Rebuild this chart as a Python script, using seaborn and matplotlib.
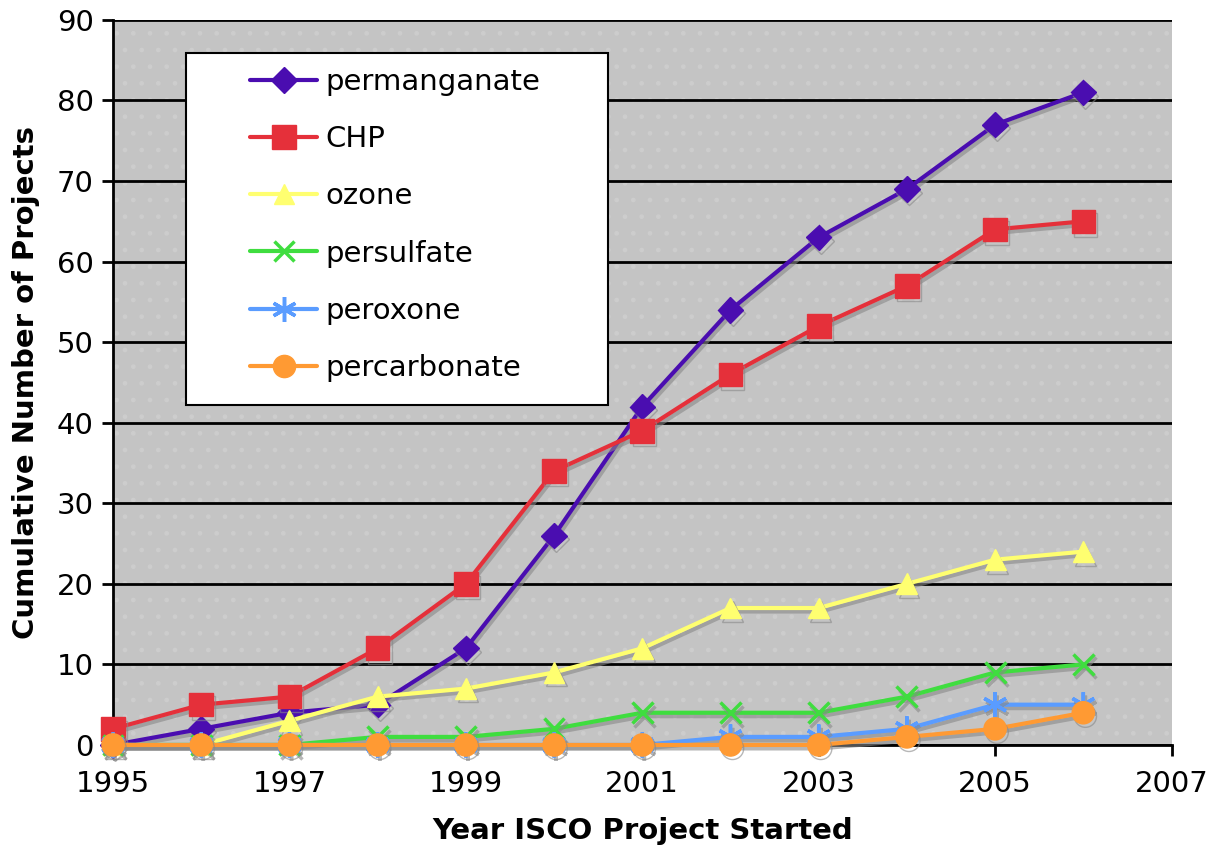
import numpy as np
import pandas as pd
import matplotlib
matplotlib.use("Agg")
import matplotlib.pyplot as plt
import matplotlib.patheffects as pe
from matplotlib.patches import Rectangle
import seaborn as sns

years = [1995, 1996, 1997, 1998, 1999, 2000, 2001, 2002, 2003, 2004, 2005, 2006]
permanganate = [0, 2, 4, 5, 12, 26, 42, 54, 63, 69, 77, 81]
chp = [2, 5, 6, 12, 20, 34, 39, 46, 52, 57, 64, 65]
ozone = [0, 0, 3, 6, 7, 9, 12, 17, 17, 20, 23, 24]
persulfate = [0, 0, 0, 1, 1, 2, 4, 4, 4, 6, 9, 10]
peroxone = [0, 0, 0, 0, 0, 0, 0, 1, 1, 2, 5, 5]
percarbonate = [0, 0, 0, 0, 0, 0, 0, 0, 0, 1, 2, 4]

series_names = ["permanganate", "CHP", "ozone", "persulfate", "peroxone", "percarbonate"]
series_values = [permanganate, chp, ozone, persulfate, peroxone, percarbonate]
colors = ["#4A0DB0", "#E5303A", "#FFFF70", "#3FDD3F", "#5A9CFF", "#FF9A33"]
marker_list = ["D", "s", "^", "x", (6, 2, 0), "o"]
marker_sizes = [13, 17, 15, 15, 18, 16]

df = pd.DataFrame({
    "year": np.tile(years, len(series_names)),
    "count": np.concatenate(series_values),
    "series": np.repeat(series_names, len(years)),
})

sns.set_style("white")
plt.rcParams["font.family"] = ["DejaVu Sans"]
plt.rcParams["text.color"] = "black"
plt.rcParams["axes.labelcolor"] = "black"

fig = plt.figure(figsize=(12.09, 8.48), dpi=100)
ax = fig.add_axes([0.0935, 0.1215, 0.8755, 0.855])
ax.set_facecolor("#C4C4C4")
ax.add_patch(Rectangle((0, 0), 1, 1, transform=ax.transAxes, facecolor="none",
                       edgecolor="#CDCDCD", hatch=".", linewidth=0, zorder=0.5))

for name, col, mk, ms in zip(series_names, colors, marker_list, marker_sizes):
    sub = df[df["series"] == name]
    mew = 2.5 if mk in ("x", (6, 2, 0)) else 1
    sns.lineplot(data=sub, x="year", y="count", ax=ax, color=col, marker=mk,
                 markersize=ms, markeredgecolor=col, markeredgewidth=mew,
                 linewidth=3, label=name, zorder=3, clip_on=False,
                 path_effects=[pe.SimpleLineShadow(offset=(1.5, -2.5), shadow_color="#888888", alpha=0.6),
                               pe.Normal()])

ax.set_xlim(1995, 2007)
ax.set_ylim(0, 90)
ax.set_xticks(range(1995, 2008, 2))
ax.set_yticks(range(0, 91, 10))
ax.yaxis.grid(True, color="black", linewidth=2, zorder=1)
ax.set_axisbelow(True)
for s in ["top", "right"]:
    ax.spines[s].set_visible(False)
for s in ["left", "bottom"]:
    ax.spines[s].set_color("black")
    ax.spines[s].set_linewidth(2)
ax.tick_params(axis="both", direction="out", length=8, width=2, color="black",
               labelsize=21, labelcolor="black", left=True, bottom=True)
ax.tick_params(axis="x", pad=10)
ax.tick_params(axis="y", pad=6)

ax.set_xlabel("Year ISCO Project Started", fontsize=21, fontweight="bold", labelpad=14)
ax.set_ylabel("Cumulative Number of Projects", fontsize=21, fontweight="bold", labelpad=12)

# legend frame (white box with black border)
ax.add_patch(Rectangle((0.0689, 0.469), 0.3985, 0.4855, transform=ax.transAxes,
                       facecolor="white", edgecolor="black", linewidth=1.5, zorder=5))
leg = ax.legend(loc="center left", bbox_to_anchor=(0.1294, 0.7172), frameon=False,
                fontsize=21, handlelength=2.3, labelspacing=1.0, borderpad=0,
                handletextpad=0.3, borderaxespad=0, markerscale=1.0)
leg.set_zorder(6)
for h in leg.legend_handles:
    h.set_path_effects([])

fig.savefig("out.png", dpi=100)
